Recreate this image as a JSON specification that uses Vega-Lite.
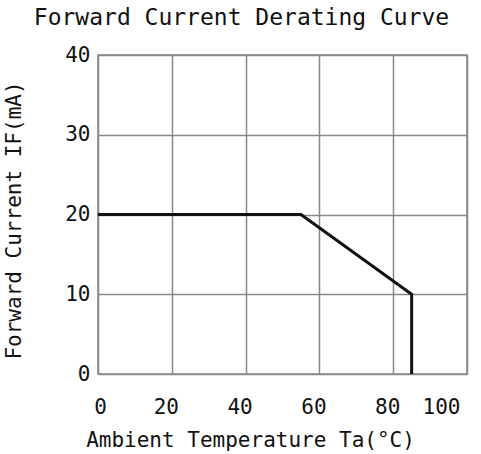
{
  "$schema": "https://vega.github.io/schema/vega-lite/v6.json",
  "autosize": {"type": "none"},
  "padding": {"left": 98, "top": 55, "right": 14, "bottom": 80},
  "width": 369,
  "height": 319,
  "background": "white",
  "title": {
    "text": "Forward Current Derating Curve",
    "font": "DejaVu Sans Mono",
    "fontSize": 23,
    "fontWeight": "normal",
    "color": "#111",
    "anchor": "middle",
    "dx": -41,
    "offset": 14
  },
  "config": {
    "view": {"stroke": "#888", "strokeWidth": 1.5},
    "axis": {
      "labelFont": "DejaVu Sans Mono",
      "titleFont": "DejaVu Sans Mono",
      "labelFontSize": 21,
      "titleFontSize": 21,
      "titleFontWeight": "normal",
      "labelColor": "#111",
      "titleColor": "#111",
      "gridColor": "#888",
      "gridWidth": 1.5,
      "gridOpacity": 1,
      "ticks": false,
      "domain": false
    }
  },
  "data": {"values": [
    {"t": 0, "i": 20},
    {"t": 55, "i": 20},
    {"t": 85, "i": 10},
    {"t": 85, "i": 0}
  ]},
  "mark": {"type": "line", "color": "#111", "strokeWidth": 3},
  "encoding": {
    "x": {
      "field": "t", "type": "quantitative",
      "scale": {"domain": [0, 100], "nice": false},
      "axis": {
        "values": [0, 20, 40, 60, 80, 100],
        "title": "Ambient Temperature Ta(°C)",
        "labelPadding": 22,
        "labelOffset": {"condition": [{"test": "datum.value == 100", "value": -26}, {"test": "datum.value == 0", "value": 2}], "value": -6},
        "titleX": 152, "titleY": 72, "titleAnchor": "middle", "titleBaseline": "alphabetic",
        "labelFlush": false
      }
    },
    "y": {
      "field": "i", "type": "quantitative",
      "scale": {"domain": [0, 40], "nice": false},
      "axis": {
        "values": [0, 10, 20, 30, 40],
        "title": "Forward Current IF(mA)",
        "labelPadding": 8,
        "titleX": -74, "titleY": 165, "titleAnchor": "middle",
        "labelFlush": false
      }
    }
  }
}
